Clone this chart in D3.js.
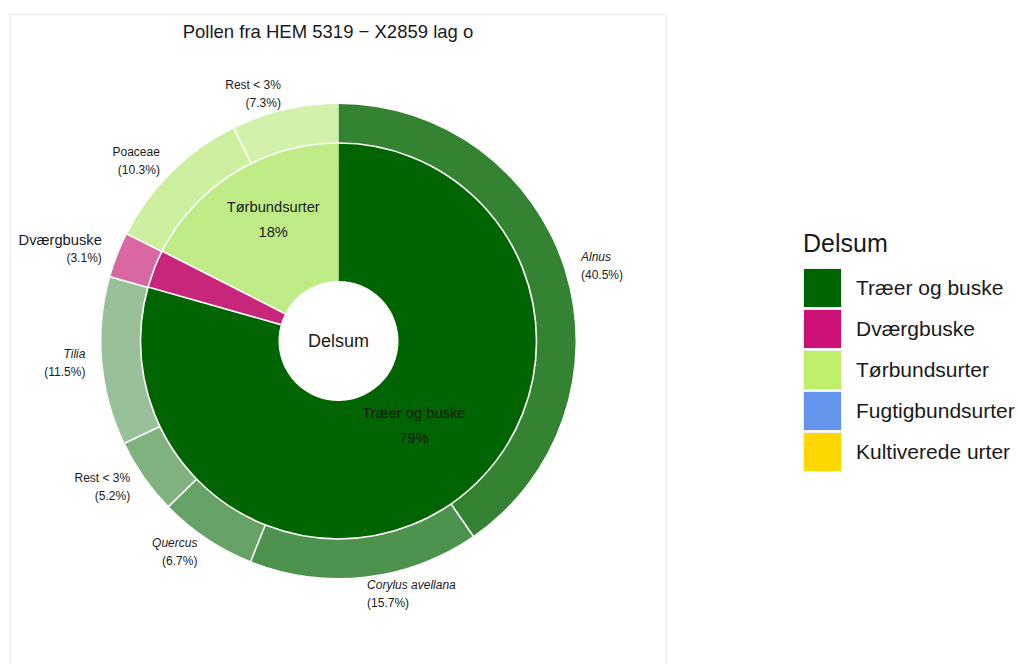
<!DOCTYPE html>
<html>
<head>
<meta charset="utf-8">
<script src="https://cdn.jsdelivr.net/npm/d3@7"></script>
<style>
  html, body { margin: 0; padding: 0; background: #fff; }
  svg { display: block; font-family: "Liberation Sans", Arial, sans-serif; }
</style>
</head>
<body>
<svg id="chart" width="1018" height="664"></svg>
<script>
// Pollen sum groups (inner ring) and their shares in percent
const groups = ["Træer og buske", "Dværgbuske", "Tørbundsurter"];
const groupShares = [79.4, 3.1, 17.5];

// Taxa (outer ring), their group and share in percent
const taxa = ["Alnus", "Corylus avellana", "Quercus", "Rest < 3%", "Tilia", "Dværgbuske", "Poaceae", "Rest < 3%"];
const taxonGroup = ["Træer og buske", "Træer og buske", "Træer og buske", "Træer og buske", "Træer og buske", "Dværgbuske", "Tørbundsurter", "Tørbundsurter"];
const taxonShares = [40.5, 15.7, 6.7, 5.2, 11.5, 3.1, 10.3, 7.3];

// Legend entries
const legendGroups = ["Træer og buske", "Dværgbuske", "Tørbundsurter", "Fugtigbundsurter", "Kultiverede urter"];

const title = "Pollen fra HEM 5319 − X2859 lag o";
const centreLabel = "Delsum";

// Colours
const legendColor = d3.scaleOrdinal()
  .domain(legendGroups)
  .range(["#006400", "#cd1076", "#bfee6b", "#6495ed", "#ffd700"]);
const ringColor = d3.scaleOrdinal()
  .domain(groups)
  .range(["#006400", "#c8267a", "#bfec87"]);
const firstTint = { "Træer og buske": 0.2, "Dværgbuske": 0.3, "Tørbundsurter": 0.2 };

const svg = d3.select("#chart");

// Panel frame
svg.append("rect")
  .attr("x", 10.5).attr("y", 14.5)
  .attr("width", 656).attr("height", 700)
  .attr("fill", "#fff").attr("stroke", "#ebebeb").attr("stroke-width", 1);

svg.append("text")
  .attr("x", 328).attr("y", 38)
  .attr("text-anchor", "middle")
  .attr("font-size", 18.5)
  .attr("fill", "#1a1a1a")
  .text(title);

const cx = 338.5, cy = 341;
const rHole = 60, rMid = 198, rOuter = 237;
const g = svg.append("g").attr("transform", `translate(${cx},${cy})`);

const pie = d3.pie().sort(null).value(d => d.value);

const innerData = pie(groups.map((name, i) => ({ name, value: groupShares[i] })));
const outerItems = taxa.map((name, i) => ({ name, group: taxonGroup[i], value: taxonShares[i] }));
// position of each taxon within its group, for the shade of the outer segment
const seen = {};
outerItems.forEach(d => { seen[d.group] = (seen[d.group] || 0); d.rank = seen[d.group]++; });
const outerData = pie(outerItems);

const innerArc = d3.arc().innerRadius(rHole).outerRadius(rMid);
const outerArc = d3.arc().innerRadius(rMid).outerRadius(rOuter);

g.selectAll("path.inner").data(innerData).join("path")
  .attr("class", "inner")
  .attr("d", innerArc)
  .attr("fill", d => ringColor(d.data.name));

g.selectAll("path.outer").data(outerData).join("path")
  .attr("class", "outer")
  .attr("d", outerArc)
  .attr("fill", d => d3.interpolateRgb(ringColor(d.data.group), "#fff")(firstTint[d.data.group] + 0.1 * d.data.rank));

// White separators between slices (none at twelve o'clock) and between rings
const sep = g.append("g").attr("stroke", "#fff").attr("stroke-width", 1.6).attr("fill", "none");
const radial = (a, r0, r1) => `M${r0 * Math.sin(a)},${-r0 * Math.cos(a)}L${r1 * Math.sin(a)},${-r1 * Math.cos(a)}`;
innerData.forEach(d => { if (d.startAngle > 1e-6) sep.append("path").attr("d", radial(d.startAngle, rHole, rMid)); });
outerData.forEach(d => { if (d.startAngle > 1e-6) sep.append("path").attr("d", radial(d.startAngle, rMid, rOuter)); });
sep.append("circle").attr("r", rMid);

// Centre label
g.append("text")
  .attr("text-anchor", "middle").attr("dy", "0.35em")
  .attr("font-size", 18).attr("fill", "#1a1a1a")
  .text(centreLabel);

// Inner ring labels: group name above its percentage
const innerLabelArc = d3.arc().innerRadius(125).outerRadius(125);
innerData.filter(d => d.data.value > 5).forEach(d => {
  const [x, y] = innerLabelArc.centroid(d);
  const t = g.append("text").attr("text-anchor", "middle").attr("font-size", 14.7).attr("fill", "#1a1a1a");
  t.append("tspan").attr("x", x).attr("y", y - 28).attr("dy", "0.35em").text(d.data.name);
  t.append("tspan").attr("x", x).attr("y", y - 3).attr("dy", "0.35em").text(`${Math.round(d.data.value)}%`);
});

// Outer ring labels: taxon name and share, outside the ring
const outerLabelArc = d3.arc().innerRadius(254).outerRadius(254);
const isGenus = name => !name.startsWith("Rest") && !/aceae$/.test(name) && !groups.includes(name);
outerData.forEach(d => {
  const [x, y] = outerLabelArc.centroid(d);
  const mid = (d.startAngle + d.endAngle) / 2;
  const anchor = Math.sin(mid) > 0 ? "start" : "end";
  const whole = groups.includes(d.data.name);
  const t = g.append("text").attr("text-anchor", anchor).attr("fill", "#1a1a1a");
  t.append("tspan").attr("x", x).attr("y", y - 9).attr("dy", "0.35em")
    .attr("font-size", whole ? 14.7 : 12)
    .attr("font-style", isGenus(d.data.name) ? "italic" : "normal")
    .text(d.data.name);
  t.append("tspan").attr("x", x).attr("y", y + 9).attr("dy", "0.35em")
    .attr("font-size", 12)
    .text(`(${d.data.value.toFixed(1)}%)`);
});

// Legend
const legend = svg.append("g").attr("transform", "translate(803,0)");
legend.append("text")
  .attr("x", 0).attr("y", 252)
  .attr("font-size", 25).attr("fill", "#1a1a1a")
  .text(centreLabel);
const keyY = d3.scaleBand().domain(legendGroups).range([268, 268 + 41 * legendGroups.length]);
const items = legend.selectAll("g.key").data(legendGroups).join("g")
  .attr("class", "key")
  .attr("transform", d => `translate(0,${keyY(d)})`);
items.append("rect")
  .attr("x", 0.5).attr("y", 0.5).attr("width", 38).attr("height", 39)
  .attr("fill", d => legendColor(d)).attr("stroke", "#eeeeee").attr("stroke-width", 1);
items.append("text")
  .attr("x", 53).attr("y", 20).attr("dy", "0.35em")
  .attr("font-size", 21).attr("fill", "#1a1a1a")
  .text(d => d);
</script>
</body>
</html>
